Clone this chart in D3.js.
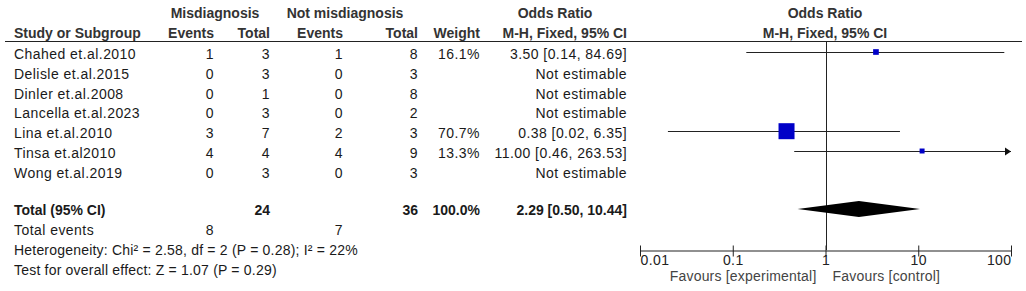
<!DOCTYPE html>
<html>
<head>
<meta charset="utf-8">
<script src="https://cdn.jsdelivr.net/npm/d3@7"></script>
<style>
  html, body { margin: 0; padding: 0; background: #fff; }
  svg { display: block; font-family: "Liberation Sans", Arial, sans-serif; }
</style>
</head>
<body>
<svg id="chart" width="1026" height="291"></svg>
<script>
// ---------- data ----------
const studies = ["Chahed et.al.2010", "Delisle et.al.2015", "Dinler et.al.2008", "Lancella et.al.2023", "Lina et.al.2010", "Tinsa et.al2010", "Wong et.al.2019"];
const expEvents = [1, 0, 0, 0, 3, 4, 0];
const expTotal = [3, 3, 1, 3, 7, 4, 3];
const ctrlEvents = [1, 0, 0, 0, 2, 4, 0];
const ctrlTotal = [8, 3, 8, 2, 3, 9, 3];
const weights = [16.1, null, null, null, 70.7, 13.3, null];
const oddsRatio = [3.50, null, null, null, 0.38, 11.00, null];
const ciLower = [0.14, null, null, null, 0.02, 0.46, null];
const ciUpper = [84.69, null, null, null, 6.35, 263.53, null];
const orLabels = ["3.50 [0.14, 84.69]", "Not estimable", "Not estimable", "Not estimable", "0.38 [0.02, 6.35]", "11.00 [0.46, 263.53]", "Not estimable"];
const totalExp = 24, totalCtrl = 36, totalWeight = "100.0%";
const totalOR = 2.29, totalLower = 0.50, totalUpper = 10.44;
const totalORLabel = "2.29 [0.50, 10.44]";
const totalEventsExp = 8, totalEventsCtrl = 7;
const heterogeneityText = "Heterogeneity: Chi\u00B2 = 2.58, df = 2 (P = 0.28); I\u00B2 = 22%";
const overallText = "Test for overall effect: Z = 1.07 (P = 0.29)";
const tickValues = [0.01, 0.1, 1, 10, 100];
const tickLabels = ["0.01", "0.1", "1", "10", "100"];
const favoursLeft = "Favours [experimental]";
const favoursRight = "Favours [control]";

// ---------- layout ----------
const svg = d3.select("#chart");
const fs = 14;
const textColor = "#1a1a1a";
const headColor = "#333";
const colX = { study: 14, expE: 214, expT: 270, ctrlE: 343, ctrlT: 418, weight: 480, or: 627 };
const rowY = d3.scaleLinear().domain([0, 1]).range([52, 71.8]);
const baseOff = 7;
const x = d3.scaleLog().domain([0.01, 100]).range([640, 1011]);
const axisY = 250;
const sq = d3.scalePow().exponent(0.7).domain([0, 70.7]).range([0, 16]);

function txt(xp, y, s, anchor, opts = {}) {
  return svg.append("text")
    .attr("x", xp).attr("y", y)
    .attr("text-anchor", anchor || "start")
    .attr("font-size", opts.size || fs)
    .attr("font-weight", opts.bold ? "bold" : "normal")
    .attr("fill", opts.color || textColor)
    .attr("letter-spacing", opts.ls != null ? opts.ls : 0.45)
    .text(s);
}

// headers
const h = { bold: true, color: headColor, ls: 0 };
txt(215, 18, "Misdiagnosis", "middle", h);
txt(345, 18, "Not misdiagnosis", "middle", h);
txt(555, 18, "Odds Ratio", "middle", h);
txt(825, 18, "Odds Ratio", "middle", h);
txt(colX.study, 38, "Study or Subgroup", "start", h);
txt(colX.expE, 38, "Events", "end", h);
txt(colX.expT, 38, "Total", "end", h);
txt(colX.ctrlE, 38, "Events", "end", h);
txt(colX.ctrlT, 38, "Total", "end", h);
txt(colX.weight, 38, "Weight", "end", h);
txt(colX.or, 38, "M-H, Fixed, 95% CI", "end", h);
txt(825, 38, "M-H, Fixed, 95% CI", "middle", h);

svg.append("line").attr("x1", 5).attr("x2", 1022).attr("y1", 41.5).attr("y2", 41.5)
  .attr("stroke", "#222").attr("stroke-width", 1.2);

// vertical line at OR = 1
svg.append("line").attr("x1", Math.round(x(1)) + 0.5).attr("x2", Math.round(x(1)) + 0.5)
  .attr("y1", 42).attr("y2", axisY).attr("stroke", "#222").attr("stroke-width", 1);

// study rows
studies.forEach((s, i) => {
  const cy = rowY(i);
  const by = cy + baseOff;
  txt(colX.study, by, s, "start");
  txt(colX.expE, by, expEvents[i], "end");
  txt(colX.expT, by, expTotal[i], "end");
  txt(colX.ctrlE, by, ctrlEvents[i], "end");
  txt(colX.ctrlT, by, ctrlTotal[i], "end");
  if (weights[i] != null) txt(colX.weight, by, weights[i].toFixed(1) + "%", "end");
  txt(colX.or, by, orLabels[i], "end");
  if (oddsRatio[i] != null) {
    const lo = Math.max(ciLower[i], 0.01), hi = Math.min(ciUpper[i], 100);
    const ly = Math.round(cy) + 0.5;
    svg.append("line").attr("x1", x(lo)).attr("x2", x(hi)).attr("y1", ly).attr("y2", ly)
      .attr("stroke", "#222").attr("stroke-width", 1.2);
    if (ciUpper[i] > 100) {
      const tx = x(100);
      svg.append("path").attr("d", `M${tx},${ly} L${tx - 6},${ly - 4} L${tx - 6},${ly + 4} Z`).attr("fill", "#111");
    }
    if (ciLower[i] < 0.01) {
      const tx = x(0.01);
      svg.append("path").attr("d", `M${tx},${ly} L${tx + 6},${ly - 4} L${tx + 6},${ly + 4} Z`).attr("fill", "#111");
    }
    const size = sq(weights[i]);
    svg.append("rect").attr("x", x(oddsRatio[i]) - size / 2).attr("y", cy - size / 2)
      .attr("width", size).attr("height", size).attr("fill", "#0000c8");
  }
});

// total row
const ty = 209;
const tb = { bold: true, ls: 0 };
txt(colX.study, ty + 6, "Total (95% CI)", "start", tb);
txt(colX.expT, ty + 6, totalExp, "end", tb);
txt(colX.ctrlT, ty + 6, totalCtrl, "end", tb);
txt(colX.weight, ty + 6, totalWeight, "end", tb);
txt(colX.or, ty + 6, totalORLabel, "end", tb);
svg.append("path")
  .attr("d", `M${x(totalLower)},${ty} L${x(totalOR)},${ty - 8} L${x(totalUpper)},${ty} L${x(totalOR)},${ty + 8} Z`)
  .attr("fill", "#000");

txt(colX.study, 235, "Total events", "start");
txt(colX.expE, 235, totalEventsExp, "end");
txt(colX.ctrlE, 235, totalEventsCtrl, "end");
txt(colX.study, 255, heterogeneityText, "start", { ls: 0.2 });
txt(colX.study, 275, overallText, "start", { ls: 0.2 });

// axis
const axis = d3.axisBottom(x).tickValues(tickValues).tickFormat((d, i) => tickLabels[i]).tickSizeOuter(0);
const ag = svg.append("g").attr("transform", `translate(0,${axisY + 0.5})`).call(axis);
ag.select(".domain").attr("stroke", "#222").attr("stroke-width", 1.2);
ag.selectAll(".tick line").attr("y1", -5).attr("y2", 6).attr("stroke", "#222");
ag.selectAll(".tick text")
  .attr("y", 14).attr("dy", 0)
  .attr("font-size", fs).attr("font-family", "Liberation Sans, Arial, sans-serif")
  .attr("fill", "#222").attr("letter-spacing", 0.4)
  .attr("text-anchor", (d, i) => i === 0 ? "start" : (i === tickValues.length - 1 ? "end" : "middle"));
txt(x(1) - 9, 281, favoursLeft, "end", { color: "#444", ls: 0.2 });
txt(x(1) + 7, 281, favoursRight, "start", { color: "#444", ls: 0.2 });
</script>
</body>
</html>
